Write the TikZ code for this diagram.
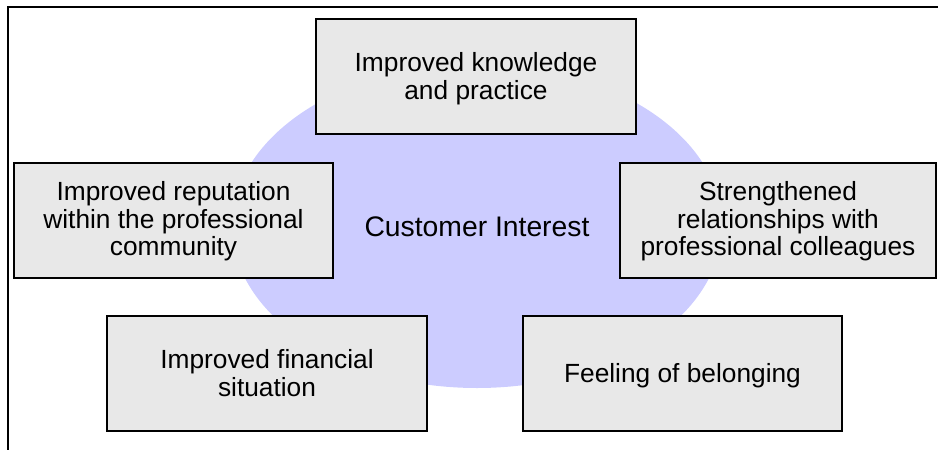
\documentclass[tikz,border=0pt]{standalone}
\usepackage{fontspec}
\setmainfont{Liberation Sans}
\usetikzlibrary{shapes.geometric}

\definecolor{boxfill}{HTML}{E8E8E8}
\definecolor{corefill}{HTML}{CCCCFF}

% centred lines of text, set a little below their natural centre
\newcommand\lowlines[2][3pt]{%
  \raisebox{-#1}[\height][\depth]{\begin{tabular}{@{}c@{}}#2\end{tabular}}}

\tikzset{
  benefit/.style={draw=black, fill=boxfill, line width=1.5pt, rectangle,
    inner sep=0pt, text=black, minimum height=115pt,
    font=\fontsize{26.3}{27.8}\selectfont},
  corezone/.style={ellipse, fill=corefill, draw=none, inner sep=0pt,
    minimum width=490pt, minimum height=324pt,
    font=\fontsize{28.3}{30}\selectfont, text=black},
  frameline/.style={draw=black, line width=2pt}
}

\begin{document}
\begin{tikzpicture}[x=1pt, y=-1pt]
  \useasboundingbox (0,0) rectangle (938,450);

  % open frame along the top and left edges
  \coordinate (frameBottom) at (8,450);
  \coordinate (frameCorner) at (8,6.5);
  \coordinate (frameRight) at (938,6.5);
  \draw[frameline] (frameBottom) -- (frameCorner) -- (frameRight);

  % central interest area
  \node[corezone] (core) at (477,226) {\lowlines[4pt]{Customer Interest}};

  % surrounding benefits
  \node[benefit, minimum width=320pt] (know) at (476,76.5)
    {\lowlines[3.5pt]{Improved knowledge\\and practice}};
  \node[benefit, minimum width=319pt] (rep) at (173.5,220.5)
    {\lowlines[2pt]{Improved reputation\\within the professional\\community}};
  \node[benefit, minimum width=316pt] (rel) at (778,220.5)
    {\lowlines[2pt]{Strengthened\\relationships with\\professional colleagues}};
  \node[benefit, minimum width=320pt] (fin) at (267,373.5)
    {\lowlines[3.5pt]{Improved financial\\situation}};
  \node[benefit, minimum width=319pt] (bel) at (682.5,373.5)
    {\lowlines[3pt]{Feeling of belonging}};
\end{tikzpicture}
\end{document}
